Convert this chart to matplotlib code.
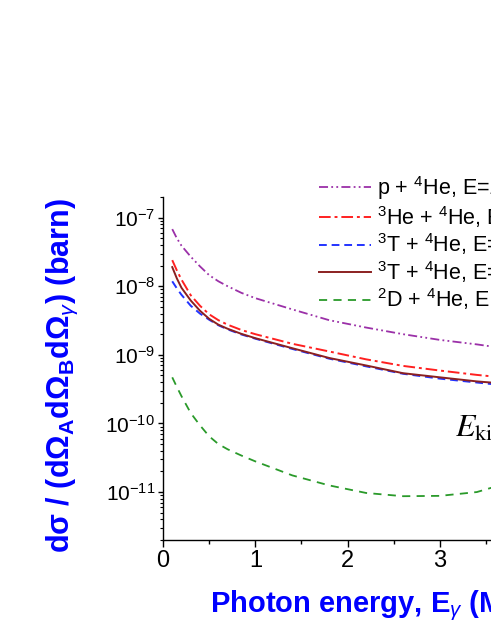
import matplotlib
matplotlib.use("Agg")
import matplotlib.pyplot as plt
from matplotlib.ticker import LogLocator, LogFormatterMathtext, MultipleLocator

plt.rcParams['font.family'] = ['Liberation Sans', 'DejaVu Sans']
plt.rcParams['mathtext.fontset'] = 'custom'
plt.rcParams['mathtext.rm'] = 'Liberation Sans'
plt.rcParams['mathtext.it'] = 'Liberation Sans:italic'
plt.rcParams['mathtext.bf'] = 'Liberation Sans:bold'

# photon energy (MeV)
energy = [0.1, 0.15, 0.2, 0.3, 0.4, 0.5, 0.6, 0.7, 0.85, 1.0, 1.4, 1.8, 2.2, 2.6, 3.0, 3.4, 3.6]

# cross sections (barn)
p_he4 = [6.8e-8, 5.0e-8, 3.9e-8, 2.7e-8, 1.95e-8, 1.45e-8, 1.18e-8, 1.0e-8, 8.0e-9, 6.7e-9,
         4.6e-9, 3.2e-9, 2.5e-9, 2.0e-9, 1.65e-9, 1.42e-9, 1.3e-9]
he3_he4 = [2.4e-8, 1.7e-8, 1.25e-8, 7.4e-9, 5.2e-9, 3.9e-9, 3.2e-9, 2.75e-9, 2.3e-9, 2.0e-9,
           1.45e-9, 1.12e-9, 8.6e-10, 6.9e-10, 5.9e-10, 5.1e-10, 4.8e-10]
t3_he4_a = [1.18e-8, 9.3e-9, 7.5e-9, 5.2e-9, 4.0e-9, 3.25e-9, 2.7e-9, 2.35e-9, 1.98e-9, 1.72e-9,
            1.22e-9, 8.8e-10, 6.8e-10, 5.3e-10, 4.5e-10, 3.95e-10, 3.7e-10]
t3_he4_b = [1.9e-8, 1.3e-8, 9.5e-9, 6.2e-9, 4.4e-9, 3.35e-9, 2.75e-9, 2.4e-9, 2.02e-9, 1.75e-9,
            1.25e-9, 9.0e-10, 7.0e-10, 5.4e-10, 4.7e-10, 4.1e-10, 3.9e-10]
d2_he4 = [4.7e-10, 3.4e-10, 2.5e-10, 1.42e-10, 9.4e-11, 6.5e-11, 5.0e-11, 4.2e-11, 3.4e-11, 2.8e-11,
          1.75e-11, 1.25e-11, 9.7e-12, 8.7e-12, 8.8e-12, 1.0e-11, 1.2e-11]

labels = ["p + $^4$He, E=1 MeV",
          "$^3$He + $^4$He, E=1 MeV",
          "$^3$T + $^4$He, E=1 MeV",
          "$^3$T + $^4$He, E=2 MeV",
          "$^2$D + $^4$He, E=1 MeV"]

fig = plt.figure(figsize=(4.91, 6.35), dpi=100)
ax = fig.add_axes([0.332, 0.1496, 0.846, 0.5402])

ax.plot(energy, p_he4, color='#9b30a8', lw=1.3, dashes=(5, 1.8, 1, 1.8, 1, 1.8), label=labels[0])
ax.plot(energy, he3_he4, color='#ff2020', lw=1.4, dashes=(6, 2, 1.5, 2), label=labels[1])
ax.plot(energy, t3_he4_a, color='#2233ff', lw=1.4, dashes=(4, 2.5), label=labels[2])
ax.plot(energy, t3_he4_b, color='#8b2020', lw=1.4, label=labels[3])
ax.plot(energy, d2_he4, color='#2a9a2a', lw=1.3, dashes=(4.5, 3.5), label=labels[4])

ax.set_yscale('log')
ax.set_xlim(0, 4.5)
ax.set_ylim(2e-12, 2e-7)
ax.xaxis.set_major_locator(MultipleLocator(1))
ax.xaxis.set_minor_locator(MultipleLocator(0.5))
ax.yaxis.set_major_locator(LogLocator(base=10, numticks=20))
ax.yaxis.set_minor_locator(LogLocator(base=10, subs=range(2, 10), numticks=20))
ax.yaxis.set_major_formatter(LogFormatterMathtext())

ax.spines['top'].set_visible(False)
for s in ax.spines.values():
    s.set_linewidth(1.0)
ax.tick_params(axis='x', which='major', direction='out', length=5, width=1, labelsize=17, pad=2)
ax.tick_params(axis='x', which='minor', direction='out', length=3, width=1)
ax.tick_params(axis='y', which='major', direction='out', length=3.8, width=1, labelsize=15, pad=2)
ax.tick_params(axis='y', which='minor', direction='out', length=2.4, width=0.8)

ax.set_xlabel("Photon energy, E$_\\gamma$ (MeV)", fontsize=21, fontweight='bold', color='#0000ff')
ax.xaxis.set_label_coords(0.113, -0.14)
ax.xaxis.label.set_horizontalalignment('left')
ax.set_ylabel("d\u03c3 / (d\u03a9$_\\mathbf{A}$d\u03a9$_\\mathbf{B}$d\u03a9$_\\gamma$) (barn)",
              fontsize=22, fontweight='bold', color='#0000ff')
ax.yaxis.set_label_coords(-0.20, 0.48)

ax.text(3.16, 6.3e-11, "$E_{\\mathrm{kin}}$ = 1 MeV", fontsize=23, math_fontfamily='stix',
        va='baseline', ha='left')

ax.legend(loc='upper left', bbox_to_anchor=(319 / 491, 1 - 174 / 635),
          bbox_transform=fig.transFigure, frameon=False, fontsize=15.5,
          handlelength=2.4, handletextpad=0.3, labelspacing=0.08,
          borderpad=0, borderaxespad=0)

fig.savefig("out.png", dpi=100)
